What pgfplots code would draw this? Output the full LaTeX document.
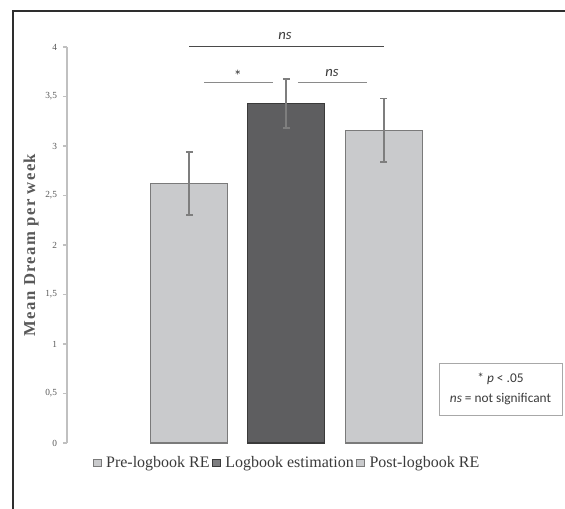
\documentclass[border=0pt]{standalone}
\usepackage{fontspec}
\setmainfont{Liberation Serif}
\newfontfamily\calfont{Carlito}
\usepackage{pgfplots}
\pgfplotsset{compat=1.18}
\definecolor{lightbar}{HTML}{C9CACC}
\definecolor{lightedge}{HTML}{7A7A7A}
\definecolor{darkbar}{HTML}{5E5E60}
\definecolor{darkedge}{HTML}{3A3A3A}
\definecolor{errgray}{HTML}{7E7E7E}
\definecolor{axisgray}{HTML}{C0C0C0}
\definecolor{tickgray}{HTML}{595959}
\definecolor{textdark}{HTML}{3A3A3A}
\definecolor{framec}{HTML}{2E2E2E}
\definecolor{boxgray}{HTML}{A8A8A8}
\definecolor{sigdark}{HTML}{4A4A4A}
\definecolor{siglight}{HTML}{8A8A8A}
\begin{document}
\begin{tikzpicture}[x=0.75pt,y=-0.75pt]
\path[use as bounding box] (0,0) rectangle (565,509);
\draw[line width=2pt, framec] (13,530) -- (13,11) -- (590,11);
\begin{axis}[
  at={(50.25pt,-332.25pt)}, anchor=south west,
  scale only axis, width=310.3pt, height=297pt,
  xmin=-1.258, xmax=3, ymin=0, ymax=4,
  clip=false,
  axis x line=none, axis y line=left,
  y axis line style={-, draw=axisgray, line width=0.8pt},
  ytick={0,0.5,1,1.5,2,2.5,3,3.5,4},
  tick align=outside, major tick length=3pt,
  ytick style={draw=axisgray, line width=0.8pt},
  yticklabel style={font=\fontsize{7}{8}\selectfont, color=tickgray, xshift=-1pt},
  /pgf/number format/.cd, use comma, fixed, assume math mode=true,
  /pgfplots/.cd,
  ylabel={Mean Dream per week},
  ylabel style={at={(axis description cs:-0.087,0.5)}, anchor=center, rotate=0,
    font=\fontsize{12.5}{14}\selectfont\bfseries\addfontfeature{LetterSpace=8}, color=tickgray},
  ybar,
  legend style={at={(axis description cs:0.533,-0.05)}, anchor=center, draw=none, fill=none,
    font=\fontsize{12}{14}\selectfont, text=textdark, inner sep=0pt,
    /tikz/every odd column/.append style={column sep=1.5pt}},
  legend columns=3,
  legend cell align=left,
]
\addplot[ybar, bar width=57.75pt, bar shift=0pt, fill=lightbar, draw=lightedge, line width=0.8pt,
  legend image code/.code={\draw[fill=lightbar, draw=lightedge, line width=0.5pt] (0pt,-2.9pt) rectangle (5.8pt,2.9pt);},
  error bars/.cd, y dir=both, y explicit,
  error bar style={line width=1.4pt, color=errgray},
  error mark options={rotate=90, mark size=2.6pt, line width=1.4pt, color=errgray}]
  coordinates {(0,2.62) +- (0,0.32)};
\addlegendentry{Pre-logbook RE}
\addplot[ybar, bar width=57.75pt, bar shift=0pt, fill=darkbar, draw=darkedge, line width=0.8pt,
  legend image code/.code={\draw[fill=darkbar!80!white, draw=darkedge, line width=0.5pt] (0pt,-2.9pt) rectangle (5.8pt,2.9pt);},
  error bars/.cd, y dir=both, y explicit,
  error bar style={line width=1.4pt, color=errgray},
  error mark options={rotate=90, mark size=2.6pt, line width=1.4pt, color=errgray}]
  coordinates {(1,3.43) +- (0,0.25)};
\addlegendentry{Logbook estimation}
\addplot[ybar, bar width=57.75pt, bar shift=0pt, fill=lightbar, draw=lightedge, line width=0.8pt,
  legend image code/.code={\draw[fill=lightbar, draw=lightedge, line width=0.5pt] (0pt,-2.9pt) rectangle (5.8pt,2.9pt);},
  error bars/.cd, y dir=both, y explicit,
  error bar style={line width=1.4pt, color=errgray},
  error mark options={rotate=90, mark size=2.6pt, line width=1.4pt, color=errgray}]
  coordinates {(2,3.16) +- (0,0.32)};
\addlegendentry{Post-logbook RE}
% significance annotations
\draw[sigdark, line width=0.75pt] (axis cs:0,4) -- (axis cs:2,4);
\node[font=\calfont\itshape\fontsize{11}{12}\selectfont, text=textdark] at (axis cs:0.986,4.11) {ns};
\draw[siglight, line width=1.2pt] (axis cs:0.152,3.64) -- (axis cs:0.862,3.64);
\draw[siglight, line width=1.2pt] (axis cs:1.117,3.64) -- (axis cs:1.827,3.64);
\node[font=\calfont\fontsize{12}{12}\selectfont, text=textdark] at (axis cs:0.5,3.71) {*};
\node[font=\calfont\itshape\fontsize{11}{12}\selectfont, text=textdark] at (axis cs:1.47,3.74) {ns};
\end{axis}
\node[draw=boxgray, line width=0.6pt, minimum width=92.25pt, minimum height=39pt, align=center,
  inner sep=0pt, font=\calfont\fontsize{10}{15}\selectfont, text=textdark] at (500.5,389)
  {* \textit{p} < .05\\ \textit{ns} = not significant};
\end{tikzpicture}
\end{document}
